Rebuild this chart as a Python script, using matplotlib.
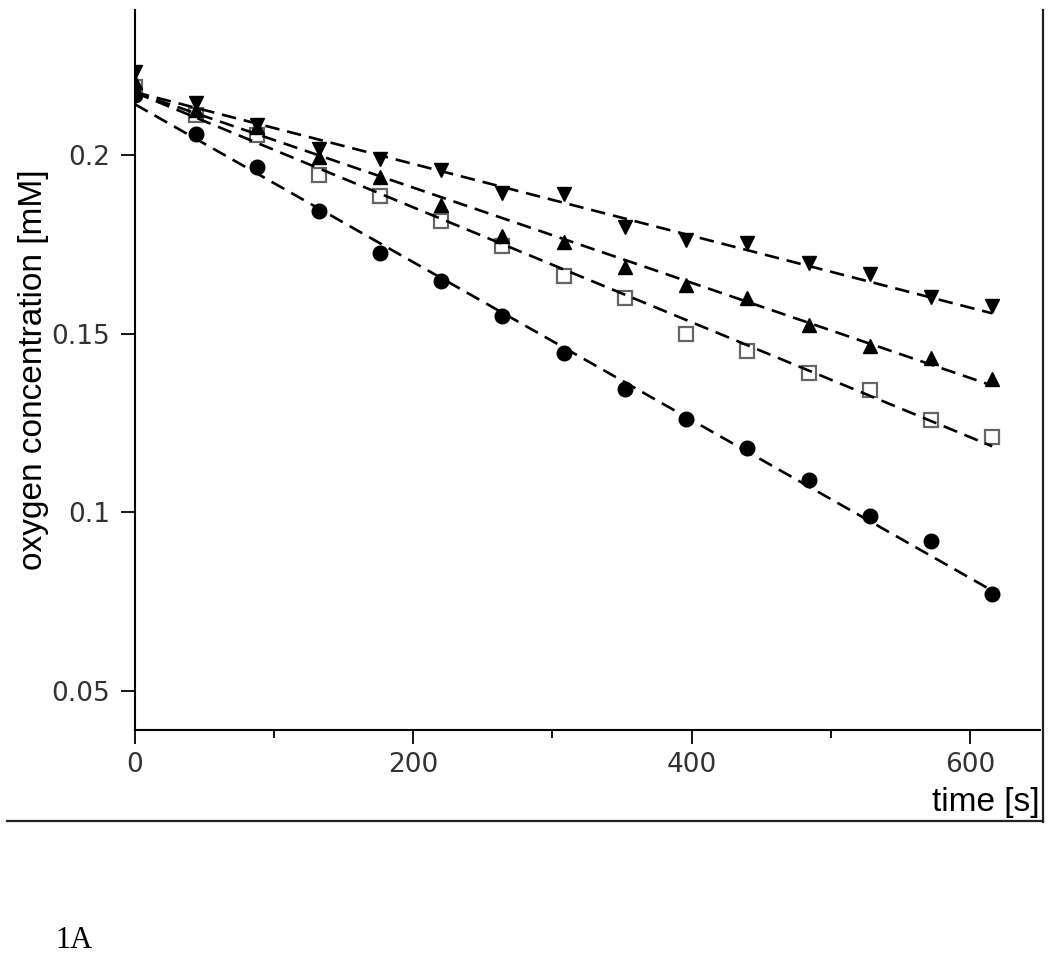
"""Oxygen consumption traces (fig 1A): four conditions, linear fits dashed."""
import matplotlib
matplotlib.use("Agg")
import matplotlib.pyplot as plt
from matplotlib.lines import Line2D
from matplotlib.ticker import FuncFormatter, MultipleLocator

INK, TICKTXT, SQUARE = "#000000", "#333333", "#666666"

# sampling times [s]
time_s = [0, 44, 88, 132, 176, 220, 264, 308, 352, 396, 440, 484, 528, 572, 616]

# oxygen concentration [mM]
o2_circle = [0.2168, 0.2059, 0.1966, 0.1843, 0.1726, 0.1647, 0.1549, 0.1446,
             0.1345, 0.1261, 0.1180, 0.1090, 0.0990, 0.0920, 0.0771]
o2_square = [0.2190, 0.2112, 0.2056, 0.1944, 0.1885, 0.1815, 0.1745, 0.1661,
             0.1600, 0.1499, 0.1451, 0.1390, 0.1342, 0.1258, 0.1211]
o2_up = [0.2205, 0.2126, 0.2078, 0.1994, 0.1938, 0.1860, 0.1773, 0.1757,
         0.1687, 0.1636, 0.1600, 0.1524, 0.1465, 0.1432, 0.1373]
o2_down = [0.2232, 0.2146, 0.2084, 0.2017, 0.1989, 0.1958, 0.1894, 0.1891,
           0.1798, 0.1762, 0.1754, 0.1698, 0.1667, 0.1603, 0.1577]

# fitted lines, start/end values
fit_t = [0, 616]
fit_circle = [0.2142, 0.0781]
fit_square = [0.2175, 0.1185]
fit_up = [0.2175, 0.1355]
fit_down = [0.2176, 0.1557]

fig = plt.figure(figsize=(10.5, 9.58), dpi=100)
ax = fig.add_axes([0.1286, 0.238, 0.8614, 0.7516])

dash = dict(color=INK, lw=1.9, dashes=(5.5, 3), zorder=3)
for fit in (fit_circle, fit_square, fit_up, fit_down):
    ax.plot(fit_t, fit, **dash)

ax.plot(time_s, o2_circle, "o", color=INK, ms=10.5, zorder=2)
ax.plot(time_s, o2_square, "s", mfc="none", mec=SQUARE, mew=1.6, ms=10.5, zorder=2)
ax.plot(time_s, o2_up, "^", color=INK, ms=10.5, zorder=2)
ax.plot(time_s, o2_down, "v", color=INK, ms=10.5, zorder=2)

ax.set_xlim(0, 650)
ax.set_ylim(0.0391, 0.2406)
ax.xaxis.set_major_locator(MultipleLocator(200))
ax.xaxis.set_minor_locator(MultipleLocator(100))
ax.yaxis.set_major_locator(MultipleLocator(0.05))
ax.yaxis.set_major_formatter(FuncFormatter(lambda v, _: f"{v:g}"))

for s in ("top", "right"):
    ax.spines[s].set_visible(False)
for s in ("left", "bottom"):
    ax.spines[s].set_linewidth(1.5)
ax.tick_params(axis="both", which="major", length=10, width=1.3,
               labelsize=19, labelcolor=TICKTXT, pad=6)
ax.tick_params(axis="x", which="minor", length=6, width=1.3)
ax.tick_params(axis="y", which="major", pad=8)

ax.set_ylabel("oxygen concentration [mM]", family="Liberation Sans",
              fontsize=24, labelpad=2)
ax.set_xlabel("time [s]", family="Liberation Sans", fontsize=24,
              loc="right", labelpad=6)

# partial frame around the panel
fig.add_artist(Line2D([1043 / 1050, 1043 / 1050], [1 - 10 / 958, 1 - 822 / 958],
                      color="#222222", lw=1.6))
fig.add_artist(Line2D([7 / 1050, 1043 / 1050], [1 - 821 / 958, 1 - 821 / 958],
                      color="#222222", lw=1.6))
fig.text(55 / 1050, 1 - 940 / 958, "1A", family="Liberation Serif",
         fontsize=22, va="center", ha="left")

fig.savefig("out.png", dpi=100, facecolor="white")
